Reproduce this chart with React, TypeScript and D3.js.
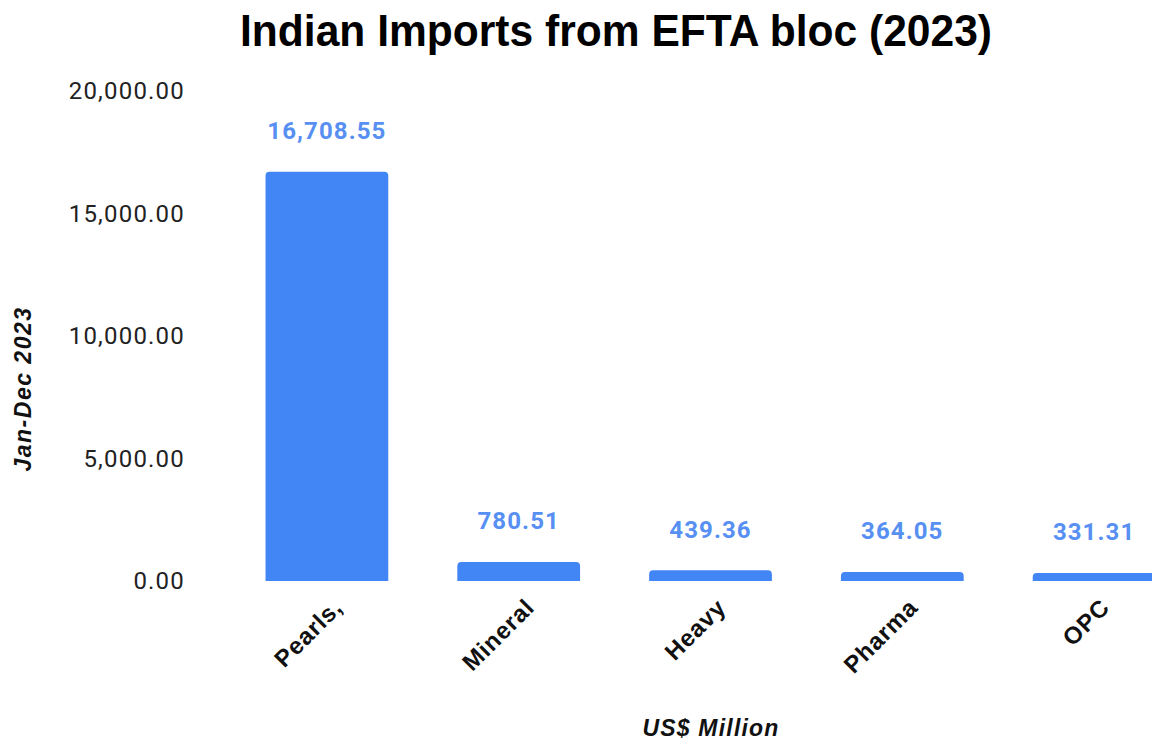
import React from 'react';
import * as d3 from 'd3';

const categories = ['Pearls,', 'Mineral', 'Heavy', 'Pharma', 'OPC'];
const values = [16708.55, 780.51, 439.36, 364.05, 331.31];
const yTicks = [0, 5000, 10000, 15000, 20000];

const W = 1152;
const H = 742;

const x = d3.scaleBand<string>()
  .domain(categories)
  .range([231, 1190])
  .paddingInner(0.36)
  .paddingOuter(0.18);

const y = d3.scaleLinear().domain([0, 20000]).range([581, 91]);

const fmt = d3.format(',.2f');

// bar with rounded top corners
const barPath = (x0: number, y0: number, w: number, h: number, r: number) => {
  const rr = Math.min(r, h / 2, w / 2);
  return `M${x0},${y0 + h}V${y0 + rr}Q${x0},${y0} ${x0 + rr},${y0}`
    + `H${x0 + w - rr}Q${x0 + w},${y0} ${x0 + w},${y0 + rr}V${y0 + h}Z`;
};

const arial = 'Liberation Sans, Arial, sans-serif';

const App = () => (
  <svg width={W} height={H} style={{ position: 'absolute', left: 0, top: 0 }}>
    <rect width={W} height={H} fill="#fff" />
    <text x={240} y={46} fontFamily={arial} fontWeight="bold" fontSize={45} fill="#000"
      textLength={752} lengthAdjust="spacingAndGlyphs">
      Indian Imports from EFTA bloc (2023)
    </text>

    {yTicks.map(t => (
      <text key={t} x={185} y={y(t)} dy="0.35em" textAnchor="end" letterSpacing={1.2}
        fontFamily="Roboto, sans-serif" fontSize={24} fill="#222">
        {fmt(t)}
      </text>
    ))}

    {categories.map((c, i) => {
      const bx = x(c) as number;
      const bw = x.bandwidth();
      const top = y(values[i]);
      const cx = bx + bw / 2;
      return (
        <g key={c}>
          <path d={barPath(bx, top, bw, y(0) - top, 4)} fill="#4285f4" />
          <text x={cx} y={top - 41} dy="0.35em" textAnchor="middle" letterSpacing={1.1}
            fontFamily="Roboto, sans-serif" fontWeight="bold" fontSize={24} fill="#5790f2">
            {fmt(values[i])}
          </text>
          <text transform={`translate(${cx + 17},${609}) rotate(-45)`} textAnchor="end"
            letterSpacing={0.8} fontFamily={arial} fontWeight="bold" fontSize={24} fill="#111">
            {c}
          </text>
        </g>
      );
    })}

    <text transform={`translate(31,389) rotate(-90)`} textAnchor="middle" letterSpacing={1.5}
      fontFamily={arial} fontWeight="bold" fontStyle="italic" fontSize={23} fill="#111">
      Jan-Dec 2023
    </text>
    <text x={711} y={736} textAnchor="middle" letterSpacing={1.2}
      fontFamily={arial} fontWeight="bold" fontStyle="italic" fontSize={23} fill="#111">
      US$ Million
    </text>
  </svg>
);

export default App;
